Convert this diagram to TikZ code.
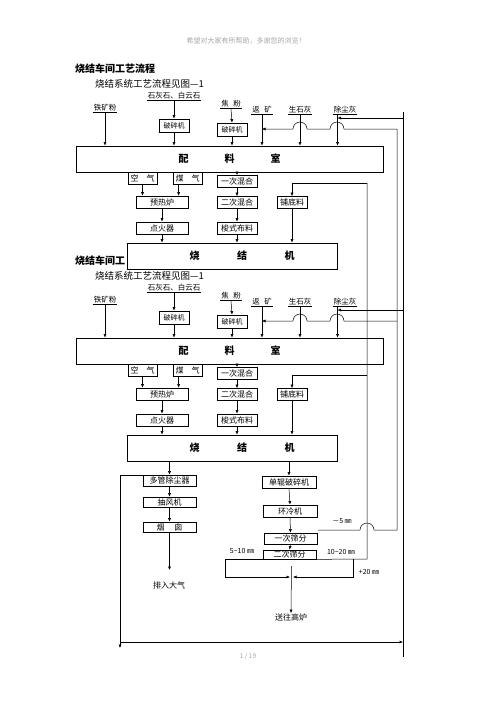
\documentclass[tikz,border=0pt]{standalone}
\usepackage{fontspec}
\setmainfont{Noto Sans CJK SC}
\usetikzlibrary{calc, arrows.meta}
\tikzset{
  box/.style={draw, line width=0.7pt, fill=white, inner sep=0pt, minimum height=12, font=\fontsize{8}{9}\selectfont},
  bigbox/.style={draw, line width=0.7pt, fill=white, inner sep=0pt, minimum height=26, font=\fontsize{10}{11}\selectfont\bfseries},
  src/.style={inner sep=1pt, font=\fontsize{7.5}{8}\selectfont},
  note/.style={inner sep=0pt, font=\fontsize{7}{8}\selectfont},
  flow/.style={-{Latex[length=3.5pt,width=3pt]}, line width=0.5pt},
  wire/.style={line width=0.5pt}
}
% upper part of the sheet, drawn twice (#1 name suffix, #2 vertical offset, #3 title)
\newcommand{\drawUpper}[3]{
  \begin{scope}[shift={(0,#2)}]
  \node[anchor=west, inner sep=0pt, font=\fontsize{10}{12}\selectfont\bfseries] (title#1) at (75,69) {#3};
  \node[anchor=west, inner sep=0pt, font=\fontsize{9.5}{11}\selectfont] (sub#1) at (95,84) {烧结系统工艺流程见图—1};
  \node[src] (tk#1) at (105,108) {铁矿粉};
  \node[src] (ls#1) at (174,96) {石灰石、白云石};
  \node[src] (jf#1) at (231,104) {焦\hspace{0.6em}粉};
  \node[src] (fk#1) at (262,110) {返\hspace{0.6em}矿};
  \node[src] (sh#1) at (300,110) {生石灰};
  \node[src] (cc#1) at (345,110) {除尘灰};
  \foreach \n in {tk,ls,jf,fk,sh,cc} \draw[wire] (\n#1.south west) -- (\n#1.south east);
  \node[box, minimum width=30, minimum height=13, font=\fontsize{7}{8}\selectfont] (cra#1) at (174,125.5) {破碎机};
  \node[box, minimum width=30, minimum height=13, font=\fontsize{7}{8}\selectfont] (crb#1) at (232,129.5) {破碎机};
  \node[bigbox, minimum width=307] (pl#1) at (229.5,159) {配\hspace{3.6em}料\hspace{3.6em}室};
  \coordinate (ccl#1) at ($(cc#1.south west)+(5,0)$);
  \coordinate (rt#1) at (397,129);
  \coordinate (dust#1) at (403,118);
  \draw[flow] (tk#1.south) -- (tk#1.south |- pl#1.north);
  \draw[flow] (ls#1.south) -- (cra#1.north);
  \draw[flow] (cra#1.south) -- (cra#1.south |- pl#1.north);
  \draw[flow] (jf#1.south) -- (crb#1.north);
  \draw[flow] (crb#1.south) -- (crb#1.south |- pl#1.north);
  \draw[flow] (fk#1.south) -- (fk#1.south |- pl#1.north);
  \draw[flow] (sh#1.south) -- (sh#1.south |- pl#1.north);
  \draw[flow] (ccl#1) -- (ccl#1 |- pl#1.north);
  \draw[flow] (dust#1) -- (ccl#1 |- dust#1);
  \draw[flow] (rt#1) -- (344,129) arc[start angle=0, end angle=180, radius=7pt]
    -- (307,129) arc[start angle=0, end angle=180, radius=7pt] -- (fk#1.south |- rt#1);
  % below the proportioning room
  \node[box, minimum width=29] (kq#1) at (142.5,178) {空\hspace{1em}气};
  \node[box, minimum width=29] (mq#1) at (187.5,178) {煤\hspace{1em}气};
  \node[box, minimum width=40] (hha#1) at (237,181.5) {一次混合};
  \node[box, minimum width=52] (yr#1) at (162,202) {预热炉};
  \node[box, minimum width=40] (hhb#1) at (237,202.5) {二次混合};
  \node[box, minimum width=30] (pd#1) at (292,202.5) {铺底料};
  \node[box, minimum width=52] (dh#1) at (162,228) {点火器};
  \node[box, minimum width=40] (sb#1) at (237,228) {梭式布料};
  \node[bigbox, minimum width=210] (sj#1) at (232,256) {\hspace{20pt}烧\hspace{3.75em}结\hspace{3.75em}机};
  \coordinate (mqo#1) at ($(mq#1.south west)+(6,0)$);
  \coordinate (bed#1) at (367,183);
  \draw[flow] (kq#1.south) -- (kq#1.south |- yr#1.north);
  \draw[flow] (mqo#1) -- (mqo#1 |- yr#1.north);
  \draw[flow] (yr#1.south) -- (dh#1.north);
  \draw[flow] (dh#1.south) -- (dh#1.south |- sj#1.north);
  \draw[flow] (hha#1.north |- pl#1.south) -- (hha#1.north);
  \draw[flow] (hha#1.south) -- (hhb#1.north);
  \draw[flow] (hhb#1.south) -- (sb#1.north);
  \draw[flow] (sb#1.south) -- (sb#1.south |- sj#1.north);
  \draw[flow] (bed#1) -| (pd#1.north);
  \draw[flow] (pd#1.south) -- (pd#1.south |- sj#1.north);
  \end{scope}
}

\begin{document}
\begin{tikzpicture}[x=1pt, y=-1pt]
  \useasboundingbox (0,0) rectangle (496,702);
  \node[inner sep=0pt, text=gray!70, font=\fontsize{7}{8}\selectfont] (head) at (246,41) {希望对大家有所帮助，多谢您的浏览！};
  \drawUpper{b}{192}{烧结车间工}
  \drawUpper{a}{0}{烧结车间工艺流程}

  % sinter machine outputs
  \node[box, minimum width=53, minimum height=11] (dg) at (169.5,480.5) {多管除尘器};
  \node[box, minimum width=53, minimum height=10] (cf) at (169.5,502) {抽风机};
  \node[box, minimum width=53, minimum height=10] (yc) at (169.5,527) {烟\hspace{1.2em}囱};
  \node[note, font=\fontsize{8}{9}\selectfont] (pq) at (169,585) {排入大气};
  \node[box, minimum width=54] (dgp) at (289,482) {单辊破碎机};
  \node[box, minimum width=54] (hl) at (290,511) {环冷机};
  \node[box, minimum width=53, minimum height=11] (sfa) at (290.5,538.5) {一次筛分};
  \node[box, minimum width=53, minimum height=9] (sfb) at (289.5,554.5) {二次筛分};
  \node[note, font=\fontsize{8}{9}\selectfont] (sw) at (291,617) {送往高炉};
  \node[note] (l510) at (242,551) {5\textasciitilde10 ㎜};
  \node[note] (l1020) at (341,552) {10\textasciitilde20 ㎜};
  \node[note] (l20) at (369,572) {+20 ㎜};
  \node[note] (l5) at (342,521) {－5 ㎜};

  \coordinate (pqa) at (169.5,570);
  \coordinate (c510) at (225,577);
  \coordinate (c1020) at (353,559);
  \coordinate (mxl) at (290,577);
  \coordinate (mxr) at (293,577);
  \coordinate (sw0) at (291.5,566);
  \coordinate (m5l) at (318,530);
  \coordinate (m5r) at (397,530);
  \coordinate (bedl) at (367,559);
  \coordinate (dka) at (120,648);
  \coordinate (dkb) at (120,642);
  \coordinate (dkc) at (403,642);
  \coordinate (dtop) at (403,112);
  \coordinate (dbot) at (403,657);

  \draw[flow] (dg.north |- sjb.south) -- (dg.north);
  \draw[flow] (dg.south) -- (cf.north);
  \draw[flow] (cf.south) -- (yc.north);
  \draw[flow] (yc.south) -- (pqa);
  \draw[flow] (dgp.north |- sjb.south) -- (dgp.north);
  \draw[flow] (dgp.south) -- (hl.north);
  \draw[flow] (hl.south) -- (sfa.north);
  \draw[flow] (sfa.south) -- (sfb.north);
  \draw[flow] (sfb.south west) -| (c510) -- (mxl);
  \draw[flow] (c1020) |- (mxr);
  \draw[flow] (sw0) -- (sw.north);
  % screened fractions back to the top
  \draw[wire] (sfb.south east) -- (bedl) -- (beda);
  \draw[wire] (rta) -- (m5r) -- (374,530) arc[start angle=0, end angle=180, radius=7pt] -- (m5l);
  % dust return
  \draw[flow] ($(dg.north west)+(0,1)$) -| (dka);
  \draw[flow] (dkb) -- (dkc);
  \draw[wire] (dbot) -- (dtop);
  \node[inner sep=0pt, text=gray!70, font=\fontsize{6.5}{8}\selectfont] (page) at (248,656) {1 / 19};
\end{tikzpicture}
\end{document}
